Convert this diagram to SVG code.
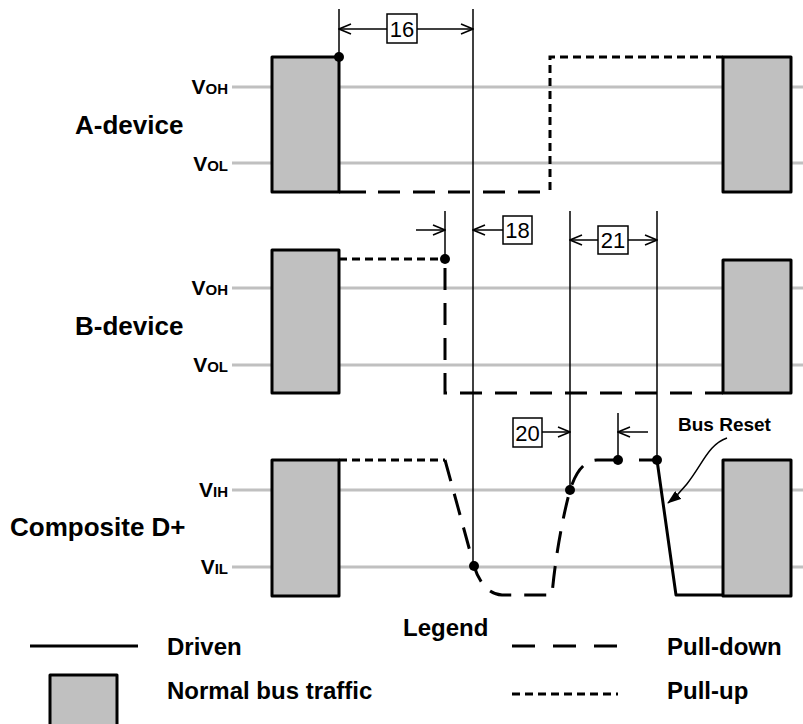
<svg xmlns="http://www.w3.org/2000/svg" width="803" height="724" viewBox="0 0 803 724">
<defs>
<style>
.bg{fill:#fff}
.lvl{stroke:#c0c0c0;stroke-width:3;fill:none}
.box{fill:#c0c0c0;stroke:#000;stroke-width:3;stroke-linejoin:round}
.drv{stroke:#000;stroke-width:3;fill:none;stroke-linejoin:round}
.pd{stroke:#000;stroke-width:3;fill:none;stroke-dasharray:22 13}
.pu{stroke:#000;stroke-width:3;fill:none;stroke-dasharray:8 5}
.thin{stroke:#000;stroke-width:1.5;fill:none}
.dim{stroke:#000;stroke-width:1.5;fill:none;marker-end:url(#open)}
.nbox{fill:#fff;stroke:#000;stroke-width:1.5}
.num{font-family:"Liberation Sans",Arial,sans-serif;font-size:22px;fill:#000;text-anchor:middle}
.lab{font-family:"Liberation Sans",Arial,sans-serif;font-weight:bold;font-size:26px;fill:#000}
.v{font-family:"Liberation Sans",Arial,sans-serif;font-weight:bold;font-size:21px;fill:#000;text-anchor:end}
.vs{font-size:15px}
.leg{font-family:"Liberation Sans",Arial,sans-serif;font-weight:bold;font-size:24px;fill:#000}
.note{font-family:"Liberation Sans",Arial,sans-serif;font-weight:bold;font-size:19px;fill:#000}
</style>
<marker id="open" viewBox="0 0 14 12" refX="13" refY="6" markerWidth="14" markerHeight="12" markerUnits="userSpaceOnUse" orient="auto">
<path d="M1,1 L13,6 L1,11" stroke="#000" stroke-width="1.5" fill="none"/>
</marker>
<marker id="solid" viewBox="0 0 14 10" refX="13" refY="5" markerWidth="14" markerHeight="10" markerUnits="userSpaceOnUse" orient="auto">
<path d="M0,0 L14,5 L0,10 z" fill="#000"/>
</marker>
</defs>
<rect class="bg" x="0" y="0" width="803" height="724"/>

<g id="a-device">
<text class="lab" x="75" y="134">A-device</text>
<text class="v" x="228" y="94">V<tspan class="vs">OH</tspan></text>
<text class="v" x="228" y="171">V<tspan class="vs">OL</tspan></text>
<line class="lvl" x1="232" y1="87" x2="803" y2="87"/>
<line class="lvl" x1="232" y1="163" x2="803" y2="163"/>
<rect class="box" x="272" y="57" width="67" height="135"/>
<rect class="box" x="723" y="57" width="68" height="135"/>
<path class="drv" d="M339,192 L366,192"/>
<path class="pd" d="M378,192 L550,192"/>
<path class="pu" d="M550,190 L550,57 L723,57"/>
</g>

<g id="b-device">
<text class="lab" x="75" y="335">B-device</text>
<text class="v" x="228" y="295">V<tspan class="vs">OH</tspan></text>
<text class="v" x="228" y="372">V<tspan class="vs">OL</tspan></text>
<line class="lvl" x1="232" y1="288" x2="803" y2="288"/>
<line class="lvl" x1="232" y1="365" x2="803" y2="365"/>
<rect class="box" x="272" y="250" width="67" height="143"/>
<rect class="box" x="723" y="260" width="68" height="133"/>
<path class="pu" d="M339,259 L445,259"/>
<path class="pd" d="M445,268 L445,393 L723,393"/>
</g>

<g id="composite">
<text class="lab" x="10" y="536">Composite D+</text>
<text class="v" x="228" y="497">V<tspan class="vs">IH</tspan></text>
<text class="v" x="228" y="574">V<tspan class="vs">IL</tspan></text>
<line class="lvl" x1="232" y1="490" x2="803" y2="490"/>
<line class="lvl" x1="232" y1="567" x2="803" y2="567"/>
<rect class="box" x="272" y="460" width="67" height="136"/>
<rect class="box" x="723" y="460" width="68" height="136"/>
<path class="pu" d="M339,460 L445,460"/>
<path class="pd" d="M445,460 L474,566 C479,582 488,594 502,595 L552,595 C555,560 562,520 570,490 C575,475 582,461 597,460 L618,460"/>
<path class="drv" d="M639,460 L657,460"/>
<path class="drv" d="M657,460 L676,595 L723,595"/>
</g>

<g id="connectors">
<line class="thin" x1="339" y1="9" x2="339" y2="57"/>
<line class="thin" x1="473" y1="9" x2="473" y2="566"/>
<line class="thin" x1="445" y1="211" x2="445" y2="259"/>
<line class="thin" x1="570" y1="211" x2="570" y2="490"/>
<line class="thin" x1="657" y1="211" x2="657" y2="460"/>
<line class="thin" x1="618" y1="413" x2="618" y2="460"/>
<line class="dim" x1="387" y1="29" x2="339" y2="29"/>
<line class="dim" x1="417" y1="29" x2="473" y2="29"/>
<line class="dim" x1="416" y1="230" x2="445" y2="230"/>
<line class="dim" x1="503" y1="230" x2="473" y2="230"/>
<line class="dim" x1="598" y1="240" x2="570" y2="240"/>
<line class="dim" x1="628" y1="240" x2="657" y2="240"/>
<line class="dim" x1="542" y1="432" x2="570" y2="432"/>
<line class="dim" x1="648" y1="432" x2="618" y2="432"/>
<path class="thin" d="M727,438 C703,446 700,478 668,503" stroke-width="1" marker-end="url(#solid)"/>
<circle cx="339" cy="57" r="5"/>
<circle cx="445" cy="259" r="5"/>
<circle cx="474" cy="566" r="5"/>
<circle cx="570" cy="490" r="5"/>
<circle cx="618" cy="460" r="5"/>
<circle cx="657" cy="460" r="5"/>
</g>

<g id="label-16"><rect class="nbox" x="387" y="14" width="30" height="29"/><text class="num" x="402" y="36.5">16</text></g>
<g id="label-18"><rect class="nbox" x="503" y="216" width="29" height="28"/><text class="num" x="517.5" y="238">18</text></g>
<g id="label-21"><rect class="nbox" x="598" y="226" width="30" height="28"/><text class="num" x="613" y="248">21</text></g>
<g id="label-20"><rect class="nbox" x="513" y="418" width="29" height="29"/><text class="num" x="527.5" y="440.5">20</text></g>
<g id="bus-reset"><text class="note" x="678" y="431">Bus Reset</text></g>

<g id="legend">
<text class="leg" x="403" y="636">Legend</text>
<line class="drv" x1="30" y1="646" x2="138" y2="646"/>
<text class="leg" x="167" y="655">Driven</text>
<line class="pd" x1="512" y1="646" x2="618" y2="646" style="stroke-dasharray:23 18"/>
<text class="leg" x="667" y="655">Pull-down</text>
<rect class="box" x="50" y="675" width="67" height="52"/>
<text class="leg" x="167" y="699">Normal bus traffic</text>
<line class="pu" x1="512" y1="694" x2="618" y2="694"/>
<text class="leg" x="667" y="699">Pull-up</text>
</g>
</svg>
